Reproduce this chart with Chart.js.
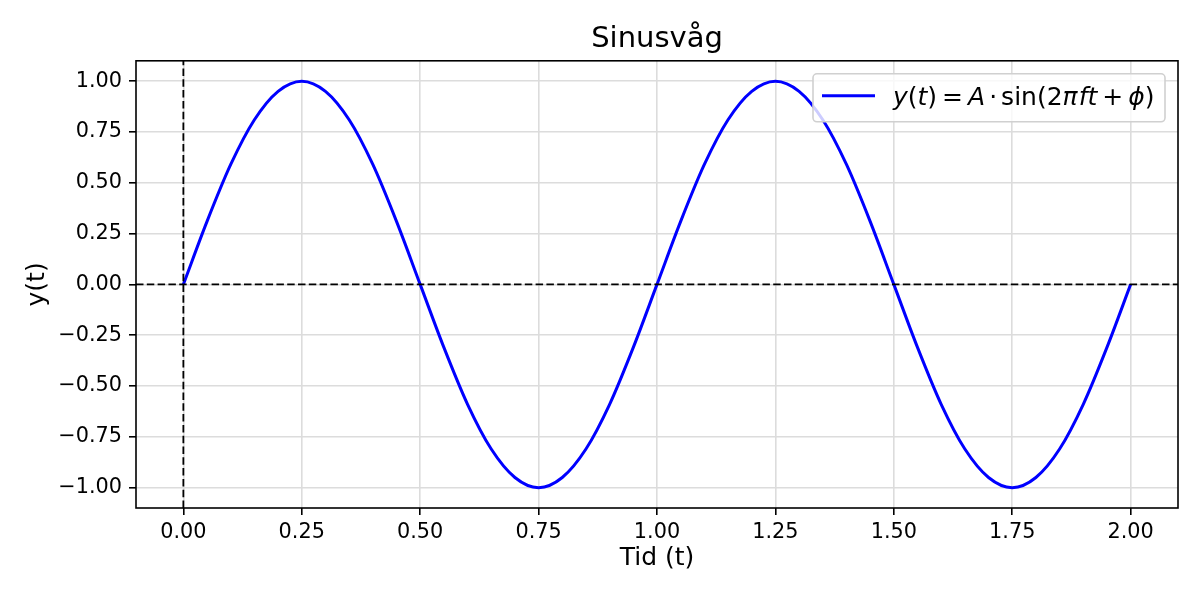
<!DOCTYPE html>
<html>
<head>
<meta charset="utf-8">
<script src="https://cdn.jsdelivr.net/npm/chart.js@4.4.1/dist/chart.umd.min.js"></script>
<style>
  html, body { margin: 0; padding: 0; background: #fff; }
</style>
</head>
<body>
<canvas id="chart" width="1200" height="600"></canvas>
<script>
// time samples (t) and sine values
const tid = [
  0.00, 0.05, 0.10, 0.15, 0.20, 0.25, 0.30, 0.35, 0.40, 0.45,
  0.50, 0.55, 0.60, 0.65, 0.70, 0.75, 0.80, 0.85, 0.90, 0.95,
  1.00, 1.05, 1.10, 1.15, 1.20, 1.25, 1.30, 1.35, 1.40, 1.45,
  1.50, 1.55, 1.60, 1.65, 1.70, 1.75, 1.80, 1.85, 1.90, 1.95,
  2.00
];
const yVals = [
  0.00, 0.31, 0.59, 0.81, 0.95, 1.00, 0.95, 0.81, 0.59, 0.31,
  0.00, -0.31, -0.59, -0.81, -0.95, -1.00, -0.95, -0.81, -0.59, -0.31,
  0.00, 0.31, 0.59, 0.81, 0.95, 1.00, 0.95, 0.81, 0.59, 0.31,
  0.00, -0.31, -0.59, -0.81, -0.95, -1.00, -0.95, -0.81, -0.59, -0.31,
  0.00
];

const xTicks = [0, 0.25, 0.5, 0.75, 1, 1.25, 1.5, 1.75, 2];
const yTicks = [-1, -0.75, -0.5, -0.25, 0, 0.25, 0.5, 0.75, 1];
const xRange = [-0.1, 2.1];
const yRange = [-1.1, 1.1];

const FONT = "'DejaVu Sans', 'Liberation Sans', sans-serif";

const fmt = v => {
  const s = Math.abs(v).toFixed(2);
  return v < 0 ? '\u2212' + s : s;
};

// spines on all four sides, drawn over the lines like matplotlib
const spines = {
  id: 'spines',
  afterDatasetsDraw(chart) {
    const { ctx, chartArea: a } = chart;
    ctx.save();
    ctx.strokeStyle = '#000';
    ctx.lineWidth = 1.6;
    ctx.strokeRect(a.left, a.top, a.right - a.left, a.bottom - a.top);
    ctx.restore();
  }
};

// legend with mixed upright / italic math text
const mathLegend = {
  id: 'mathLegend',
  afterDraw(chart) {
    const { ctx, chartArea: a } = chart;
    const up = "25px " + FONT;
    const it = "italic 25px " + FONT;
    const parts = [
      ['y', it, 0], ['(', up, 0], ['t', it, 0], [')', up, 0],
      ['=', up, 5], ['A', it, 5], ['\u00b7', up, 4], ['sin', up, 4],
      ['(', up, 0], ['2', up, 0], ['\u03c0', it, 0], ['f', it, 1], ['t', it, 0],
      ['+', up, 5], ['\u03d5', it, 5], [')', up, 0]
    ];
    const w = 352, h = 48;
    const x0 = a.right - 13 - w, y0 = a.top + 13;

    ctx.save();
    ctx.beginPath();
    ctx.roundRect(x0, y0, w, h, 4);
    ctx.fillStyle = 'rgba(255,255,255,0.8)';
    ctx.fill();
    ctx.strokeStyle = '#d0d0d0';
    ctx.lineWidth = 1.6;
    ctx.stroke();

    const cy = y0 + 22;
    ctx.beginPath();
    ctx.moveTo(x0 + 9, cy);
    ctx.lineTo(x0 + 62, cy);
    ctx.strokeStyle = '#0000ff';
    ctx.lineWidth = 3;
    ctx.stroke();

    ctx.fillStyle = '#000';
    ctx.textBaseline = 'alphabetic';
    ctx.textAlign = 'left';
    let x = x0 + 80;
    const base = y0 + 31;
    parts.forEach(([s, f, gap]) => {
      x += gap;
      ctx.font = f;
      ctx.fillText(s, x, base);
      x += ctx.measureText(s).width;
    });
    ctx.restore();
  }
};

new Chart(document.getElementById('chart'), {
  type: 'line',
  data: {
    datasets: [
      {
        data: [{ x: xRange[0], y: 0 }, { x: xRange[1], y: 0 }],
        borderColor: '#000',
        borderWidth: 1.8,
        borderDash: [7.5, 3.3],
        pointRadius: 0
      },
      {
        data: [{ x: 0, y: yRange[0] }, { x: 0, y: yRange[1] }],
        borderColor: '#000',
        borderWidth: 1.8,
        borderDash: [7.5, 3.3],
        pointRadius: 0
      },
      {
        data: tid.map((t, i) => ({ x: t, y: yVals[i] })),
        borderColor: '#0000ff',
        borderWidth: 3,
        pointRadius: 0,
        cubicInterpolationMode: 'monotone'
      }
    ]
  },
  options: {
    responsive: false,
    animation: false,
    devicePixelRatio: 1,
    layout: { padding: { left: 0, right: 22, top: 0, bottom: 0 } },
    plugins: {
      legend: { display: false },
      tooltip: { enabled: false },
      title: {
        display: true,
        text: 'Sinusvåg',
        fullSize: false,
        color: '#000',
        font: { family: FONT, size: 29, weight: 'normal' },
        padding: { top: 22, bottom: 4 }
      }
    },
    scales: {
      x: {
        type: 'linear',
        min: xRange[0],
        max: xRange[1],
        afterBuildTicks: s => { s.ticks = xTicks.map(v => ({ value: v })); },
        afterFit: s => { s.height = 92; },
        grid: {
          color: '#dcdcdc',
          lineWidth: 1.6,
          tickColor: '#000',
          tickLength: 7,
          tickWidth: 1.6
        },
        border: { display: false },
        ticks: {
          color: '#000',
          font: { family: FONT, size: 20.8 },
          padding: 5,
          maxRotation: 0,
          autoSkip: false,
          callback: v => fmt(v)
        },
        title: {
          display: true,
          text: 'Tid (t)',
          color: '#000',
          font: { family: FONT, size: 25 },
          padding: { top: 0, bottom: 27 }
        }
      },
      y: {
        type: 'linear',
        min: yRange[0],
        max: yRange[1],
        afterBuildTicks: s => { s.ticks = yTicks.map(v => ({ value: v })); },
        afterFit: s => { s.width = 136; },
        grid: {
          color: '#dcdcdc',
          lineWidth: 1.6,
          tickColor: '#000',
          tickLength: 7,
          tickWidth: 1.6
        },
        border: { display: false },
        ticks: {
          color: '#000',
          font: { family: FONT, size: 20.8 },
          padding: 7,
          autoSkip: false,
          callback: v => fmt(v)
        },
        title: {
          display: true,
          text: 'y(t)',
          color: '#000',
          font: { family: FONT, size: 25 },
          padding: { top: 22, bottom: 0 }
        }
      }
    }
  },
  plugins: [spines, mathLegend]
});
</script>
</body>
</html>
